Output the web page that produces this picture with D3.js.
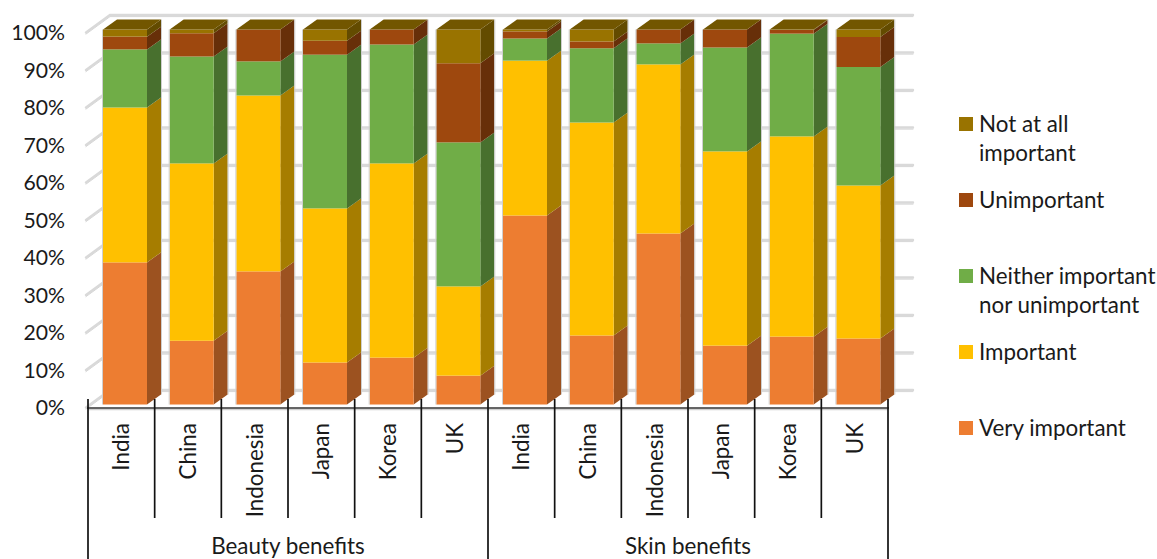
<!DOCTYPE html>
<html>
<head>
<meta charset="utf-8">
<script src="https://d3js.org/d3.v7.min.js"></script>
<style>
html,body{margin:0;padding:0;background:#fff;}
svg{display:block;}
text{font-family:Lato,"Open Sans",sans-serif;fill:#1a1a1a;}
</style>
</head>
<body>
<svg id="chart" width="1157" height="559"></svg>
<script>
// Survey responses, percent of respondents per country and benefit group
const categories = ["India","China","Indonesia","Japan","Korea","UK","India","China","Indonesia","Japan","Korea","UK"];
const groups = ["Beauty benefits","Skin benefits"];
const veryImportant = [37.9,17.0,35.5,11.2,12.5,7.7,50.4,18.4,45.6,15.7,18.1,17.6];
const important     = [41.3,47.3,46.9,41.1,51.8,23.8,41.3,56.8,45.1,51.8,53.4,40.8];
const neither       = [15.5,28.5,9.1,41.0,31.7,38.4,5.9,19.8,5.6,27.7,27.4,31.6];
const unimportant   = [3.4,6.2,8.5,3.7,4.0,21.1,1.9,1.8,3.7,4.8,1.0,8.0];
const notAtAll      = [1.9,1.0,0,3.0,0,9.0,0.5,3.2,0,0,0.1,2.0];
const seriesNames = ["Very important","Important","Neither important|nor unimportant","Unimportant","Not at all|important"];
const seriesValues = [veryImportant,important,neither,unimportant,notAtAll];
const frontColors = ["#ED7D31","#FFC000","#70AD47","#9E480E","#997300"];
const sideColors  = ["#9C5220","#A67D00","#48702E","#672F09","#634B00"];
const topColor = "#725600";
const yTicks = [0,10,20,30,40,50,60,70,80,90,100];

const svg = d3.select("#chart");
const x = d3.scaleBand().domain(d3.range(categories.length)).range([88,888]);
const y = d3.scaleLinear().domain([0,100]).range([404.5,29.5]);
const barInset = 15, barWidth = 44;
const depthX = 14, depthY = 10;      // side face offset of each column
const wallX = 22, wallY = 15;        // back wall offset of the gridlines
const wallRight = 913;
const labelSize = 22.4, tickSize = 21.2;

// Back wall and left wall gridlines
const grid = svg.append("g").attr("fill","none").attr("stroke-linecap","round");
yTicks.forEach(t => {
  const py = y(t) + 0.5;
  const pts = `M${x.range()[0]-2},${py+2.5} L${x.range()[0]+wallX},${py-wallY} H${wallRight}`;
  grid.append("path").attr("d",pts).attr("stroke","#b8b8b8").attr("stroke-width",1).attr("transform","translate(0,1.6)").attr("opacity",0.6);
  grid.append("path").attr("d",pts).attr("stroke","#d9d9d9").attr("stroke-width",2.4);
});

// Stacked columns with front, side and top faces
const bars = svg.append("g");
categories.forEach((c,i) => {
  const x0 = x(i) + barInset, x1 = x0 + barWidth;
  const g = bars.append("g");
  let base = 0;
  seriesValues.forEach((vals,s) => {
    const top = base + vals[i];
    const yb = y(base), yt = y(top);
    g.append("path")
      .attr("d",`M${x1},${yb} L${x1+depthX},${yb-depthY} L${x1+depthX},${yt-depthY} L${x1},${yt} Z`)
      .attr("fill",sideColors[s]);
    g.append("rect")
      .attr("x",x0).attr("y",yt).attr("width",barWidth).attr("height",yb-yt)
      .attr("fill",frontColors[s]);
    base = top;
  });
  const yt = y(base);
  g.append("path")
    .attr("d",`M${x0},${yt} L${x0+depthX},${yt-depthY} H${x1+depthX} L${x1},${yt} Z`)
    .attr("fill",topColor);
  // Soft lighter outline around the column silhouette
  g.append("path")
    .attr("d",`M${x0-0.5},${y(0)} V${yt} M${x1+depthX+0.5},${yt-depthY} V${y(0)-depthY}`)
    .attr("stroke","#cfcfcf").attr("stroke-width",1).attr("fill","none");
});

// Percentage labels
svg.append("g").selectAll("text").data(yTicks).join("text")
  .attr("x",65).attr("y",d => y(d)+10.5)
  .attr("text-anchor","end").attr("font-size",tickSize)
  .text(d => d+"%");

// Category axis with multi-level separators
const axisY = 408;
svg.append("line").attr("x1",88).attr("x2",888).attr("y1",axisY+1.5).attr("y2",axisY+1.5).attr("stroke","#d0d0d0").attr("stroke-width",1.5);
const axis = svg.append("g").attr("stroke","#111").attr("stroke-width",1.7);
axis.append("line").attr("x1",87).attr("x2",889).attr("y1",axisY).attr("y2",axisY).attr("stroke","#333");
categories.forEach((c,i) => {
  const px = x(i);
  const tall = i % 6 === 0;
  axis.append("line").attr("x1",px).attr("x2",px).attr("y1",399).attr("y2",tall ? 559 : 518);
});
axis.append("line").attr("x1",888).attr("x2",888).attr("y1",399).attr("y2",559);

svg.append("g").selectAll("text").data(categories).join("text")
  .attr("text-anchor","end").attr("font-size",labelSize)
  .attr("transform",(d,i) => `translate(${x(i)+x.bandwidth()/2+8},423) rotate(-90)`)
  .text(d => d);

svg.append("g").selectAll("text").data(groups).join("text")
  .attr("x",(d,i) => x(i*6) + x.bandwidth()*3).attr("y",553.5)
  .attr("text-anchor","middle").attr("font-size",labelSize)
  .text(d => d);

// Legend, last series on top
const legendYs = [428,352,276,200,124];
const legend = svg.append("g");
seriesNames.forEach((name,s) => {
  legend.append("rect").attr("x",959).attr("y",legendYs[s]-7).attr("width",14).attr("height",14).attr("fill",frontColors[s]);
  name.split("|").forEach((line,k) => {
    legend.append("text").attr("x",979).attr("y",legendYs[s]+8+k*29).attr("font-size",labelSize).text(line);
  });
});
</script>
</body>
</html>
